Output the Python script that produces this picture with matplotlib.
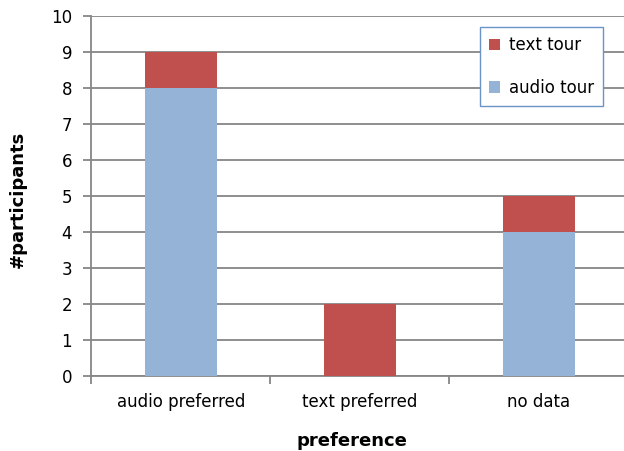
import numpy as np
import matplotlib.pyplot as plt

# participants per preference group, split by tour type
categories = ['audio preferred', 'text preferred', 'no data']
audio_tour = [8, 0, 4]
text_tour = [1, 2, 1]

blue = '#95B3D7'
red = '#C0504D'
grid_col = '#868686'

fig = plt.figure(figsize=(6.24, 4.51), dpi=100)
# plot area runs a little past the right edge of the canvas
ax = fig.add_axes([0.1466, 0.1663, 0.8606, 0.7982])

x = np.arange(len(categories))
ax.bar(x, audio_tour, width=0.4, color=blue, label='audio tour', zorder=3)
ax.bar(x, text_tour, width=0.4, bottom=audio_tour, color=red, label='text tour', zorder=3)

ax.set_xlim(-0.5, len(categories) - 0.5)
ax.set_ylim(0, 10)
ax.set_yticks(range(0, 11))
ax.yaxis.grid(True, color=grid_col, linewidth=1.3, zorder=0)

# category ticks sit on the boundaries between groups
ax.set_xticks(x)
ax.set_xticklabels(categories, fontsize=12)
ax.tick_params(axis='x', length=0, pad=12)
ax.set_xticks(np.arange(-0.5, len(categories)), minor=True)
ax.tick_params(axis='x', which='minor', length=6, color=grid_col, width=1.3)
ax.tick_params(axis='y', labelsize=12, length=6, color=grid_col, width=1.3, pad=8)

for side in ['top', 'right']:
    ax.spines[side].set_visible(False)
for side in ['left', 'bottom']:
    ax.spines[side].set_color(grid_col)
    ax.spines[side].set_linewidth(1.3)

ax.set_ylabel('#participants', fontsize=13, fontweight='bold')
ax.set_xlabel('preference', fontsize=13, fontweight='bold')
ax.yaxis.set_label_coords(-0.12, 0.49)
ax.xaxis.set_label_coords(0.4855, -0.155)

handles, labels = ax.get_legend_handles_labels()
leg = ax.legend(handles[::-1], labels[::-1], loc='upper right',
                bbox_to_anchor=(0.9525, 0.969), fontsize=12, fancybox=False,
                handlelength=0.7, handleheight=0.7, handletextpad=0.5,
                labelspacing=1.45, borderpad=0.55, borderaxespad=0, framealpha=1)
leg.get_frame().set_edgecolor('#6A93C8')
leg.get_frame().set_linewidth(1.0)

fig.savefig('out.png', dpi=100)
